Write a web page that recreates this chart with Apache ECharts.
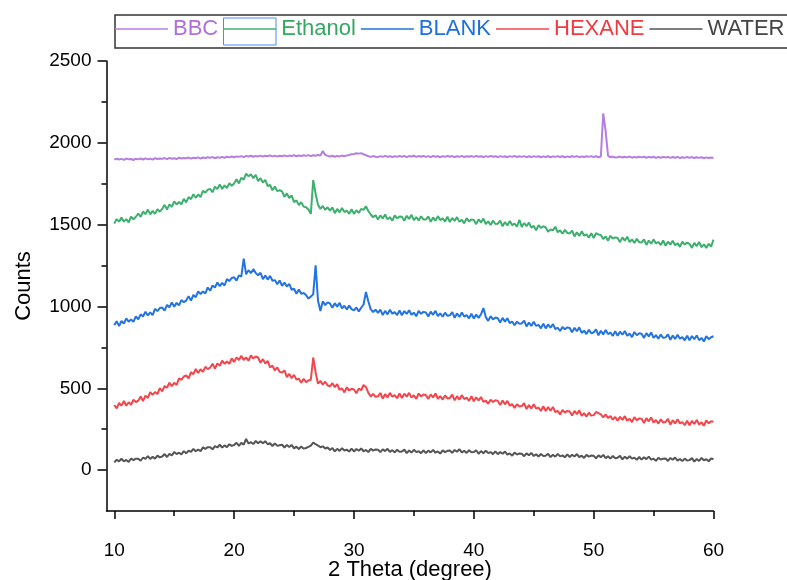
<!DOCTYPE html>
<html><head><meta charset="utf-8">
<script src="https://cdn.jsdelivr.net/npm/echarts@6/dist/echarts.min.js"></script>
<style>html,body{margin:0;padding:0;background:#fff}#c{width:787px;height:580px}</style>
</head><body><div id="c"></div>
<script>
// 2θ sampling grid: start and step (degrees)
const thetaStart = 10, thetaStep = 0.2;
const xTicks = [10, 20, 30, 40, 50, 60];
const xMinorTicks = [15, 25, 35, 45, 55];
const yTicks = [0, 500, 1000, 1500, 2000, 2500];
const yMinorTicks = [250, 750, 1250, 1750, 2250];
const seriesNames = ['BBC', 'Ethanol', 'BLANK', 'HEXANE', 'WATER'];

const bbc = [1897,1903,1898,1902,1896,1904,1899,1901,1895,1903,
 1899,1904,1898,1905,1900,1903,1897,1906,1901,1904,
 1902,1907,1900,1908,1903,1906,1901,1909,1904,1907,
 1905,1910,1903,1909,1906,1911,1904,1910,1907,1912,
 1908,1913,1906,1912,1909,1914,1908,1915,1911,1916,
 1912,1917,1914,1919,1913,1920,1916,1921,1915,1920,
 1917,1922,1916,1921,1918,1923,1917,1922,1916,1921,
 1918,1923,1917,1922,1919,1924,1918,1922,1919,1924,
 1920,1925,1919,1924,1921,1926,1922,1950,1926,1920,
 1916,1921,1915,1920,1917,1922,1918,1923,1926,1930,
 1932,1936,1934,1937,1930,1924,1918,1914,1919,1915,
 1913,1919,1914,1920,1915,1918,1913,1919,1914,1920,
 1915,1920,1913,1919,1916,1921,1914,1919,1915,1920,
 1914,1919,1913,1920,1915,1918,1912,1919,1914,1920,
 1915,1919,1913,1918,1914,1920,1913,1918,1915,1919,
 1914,1920,1915,1918,1913,1919,1914,1920,1915,1918,
 1913,1919,1914,1918,1912,1919,1914,1920,1913,1918,
 1914,1919,1912,1918,1913,1919,1914,1918,1912,1917,
 1913,1918,1912,1917,1914,1919,1913,1918,1912,1917,
 1913,1918,1914,1919,1912,1917,1913,1918,1914,1919,
 1913,1918,1912,1916,2180,2072,1922,1911,1916,1910,
 1912,1916,1910,1915,1911,1916,1909,1914,1910,1915,
 1911,1915,1909,1914,1910,1915,1908,1913,1909,1914,
 1910,1914,1908,1913,1909,1914,1907,1912,1908,1913,
 1908,1913,1907,1912,1908,1912,1906,1911,1907,1910,
 1908];

const ethanol = [1506,1534,1518,1544,1518,1534,1514,1549,1533,1548,
 1568,1547,1580,1564,1592,1563,1584,1566,1595,1579,
 1596,1621,1592,1624,1609,1642,1623,1638,1624,1658,
 1636,1668,1656,1686,1664,1684,1668,1707,1695,1714,
 1718,1698,1732,1717,1746,1718,1740,1723,1753,1738,
 1751,1778,1752,1787,1775,1812,1795,1808,1784,1805,
 1766,1784,1758,1773,1736,1742,1710,1733,1705,1710,
 1703,1670,1691,1663,1679,1638,1648,1619,1637,1610,
 1606,1592,1566,1772,1688,1622,1596,1614,1590,1606,
 1586,1605,1570,1596,1575,1602,1577,1586,1566,1594,
 1566,1588,1572,1596,1590,1612,1582,1562,1545,1558,
 1531,1556,1538,1562,1532,1546,1524,1557,1538,1550,
 1548,1524,1554,1535,1560,1528,1546,1525,1551,1532,
 1531,1551,1517,1544,1524,1552,1528,1538,1519,1548,
 1516,1541,1523,1546,1517,1530,1508,1540,1520,1532,
 1528,1503,1533,1513,1537,1504,1520,1498,1524,1504,
 1506,1525,1490,1516,1495,1522,1497,1506,1487,1530,
 1486,1510,1490,1512,1482,1492,1466,1497,1480,1490,
 1483,1457,1471,1465,1487,1453,1465,1444,1468,1449,
 1446,1464,1428,1453,1431,1459,1433,1441,1420,1447,
 1418,1448,1440,1436,1412,1428,1402,1432,1414,1422,
 1418,1393,1422,1402,1426,1393,1410,1388,1413,1393,
 1391,1410,1376,1403,1383,1410,1385,1394,1375,1403,
 1371,1396,1378,1401,1374,1387,1364,1396,1378,1390,
 1383,1358,1388,1369,1394,1362,1380,1358,1383,1366,
 1408];

const blank = [886,910,880,911,895,927,907,921,906,939,
 921,952,939,968,945,964,947,985,972,990,
 993,974,1009,995,1025,998,1022,1007,1039,1026,
 1036,1063,1036,1070,1057,1092,1075,1092,1080,1116,
 1096,1128,1116,1146,1124,1144,1128,1167,1155,1174,
 1178,1158,1190,1182,1292,1196,1222,1203,1228,1205,
 1191,1206,1167,1189,1164,1187,1157,1161,1136,1159,
 1126,1146,1122,1138,1102,1108,1078,1103,1077,1082,
 1070,1048,1060,1075,1252,1035,972,1032,1008,1025,
 1018,992,1020,999,1022,988,1004,981,1005,984,
 976,994,970,992,1012,1088,1030,982,966,980,
 961,981,947,973,952,980,956,965,947,975,
 946,972,954,977,949,962,940,973,955,967,
 963,939,968,949,973,941,958,937,962,943,
 946,965,931,957,936,963,938,947,927,955,
 926,950,930,952,990,935,912,941,921,932,
 928,902,930,907,928,898,908,885,907,894,
 896,914,878,902,881,907,881,887,866,895,
 866,890,870,892,862,870,850,875,861,872,
 868,842,870,849,872,838,852,831,857,836,
 841,860,824,851,829,856,831,840,820,849,
 821,846,827,850,821,834,813,844,824,836,
 833,808,837,817,841,808,825,803,828,808,
 811,830,796,822,801,827,803,812,793,821,
 794,819,800,823,794,808,786,818,800,812,
 818];

const hexane = [398,377,410,394,422,393,415,399,430,416,
 424,450,422,455,441,477,460,477,465,501,
 481,514,503,534,513,534,520,561,551,572,
 578,561,598,586,618,593,616,600,631,617,
 626,650,620,652,637,669,649,664,650,683,
 661,689,673,699,673,689,668,701,682,694,
 688,656,678,651,668,628,638,609,627,600,
 596,609,568,588,561,582,553,558,534,558,
 538,548,552,688,598,528,545,522,540,518,
 511,531,507,525,491,499,475,506,486,497,
 493,470,498,488,520,508,472,450,466,448,
 451,471,437,464,444,472,448,458,439,468,
 441,467,449,472,443,457,435,468,450,462,
 458,434,463,444,468,436,452,431,456,438,
 441,461,426,452,431,458,434,443,423,451,
 421,445,425,447,417,425,405,430,416,427,
 423,397,425,402,423,393,403,380,402,389,
 391,409,373,397,376,402,376,382,361,390,
 361,385,363,386,355,362,340,368,351,362,
 358,333,362,341,365,332,348,327,351,333,
 336,355,348,340,322,340,318,330,308,325,
 301,326,307,330,301,314,293,324,304,316,
 313,288,317,298,322,290,306,284,310,290,
 294,313,278,305,285,311,285,294,274,302,
 274,300,282,306,278,292,271,304,286,299,
 296];

const water = [47,63,53,69,53,62,50,71,61,70,
 70,57,77,68,85,68,81,70,88,78,
 83,98,80,99,90,110,98,106,96,116,
 102,119,111,129,115,126,116,139,130,140,
 140,127,147,138,155,138,151,140,158,148,
 153,167,148,166,156,190,163,170,159,178,
 164,177,164,177,158,164,147,163,148,152,
 155,138,154,141,154,133,143,129,144,131,
 135,142,150,168,158,150,140,145,132,138,
 123,135,114,130,117,134,120,125,113,131,
 114,129,118,132,115,123,110,130,119,126,
 125,110,127,116,130,111,122,108,124,112,
 113,125,104,120,107,124,110,115,103,121,
 104,119,108,123,106,114,101,121,110,118,
 120,105,123,112,127,108,118,105,121,109,
 110,121,100,116,103,119,104,110,97,114,
 97,111,100,113,95,102,88,107,95,102,
 100,85,102,91,105,86,97,83,98,86,
 88,100,79,94,82,99,84,90,78,96,
 80,94,83,98,80,88,74,93,82,89,
 87,72,90,79,93,73,84,70,86,73,
 76,87,65,82,70,85,70,75,63,80,
 64,78,67,82,64,70,57,75,65,70,
 71,56,74,63,77,58,68,55,70,58,
 61,73,52,68,56,74,60,66,54,72,
 66];

const FONT = '"Liberation Sans", Arial, sans-serif';
const lineColors = ['#b57ee0', '#3daf6e', '#2373e0', '#f2454c', '#555555'];
const textColors = ['#b06fdc', '#34a862', '#1f6fe0', '#ef3a42', '#444444'];
const seriesValues = [bbc, ethanol, blank, hexane, water];

function toPairs(vals) {
  return vals.map((v, i) => [+(thetaStart + i * thetaStep).toFixed(1), v]);
}

const chart = echarts.init(document.getElementById('c'), null, {renderer: 'canvas'});
const axisLineStyle = {color: '#000', width: 1.5};
const plain = v => String(v);

chart.setOption({
  animation: false,
  backgroundColor: '#fff',
  grid: {left: 106.5, right: 73.5, top: 61, bottom: 69, containLabel: false, outerBoundsMode: 'none'},
  legend: {
    left: 115, top: 18, padding: 0, width: 900,
    icon: 'rect', itemWidth: 53, itemHeight: 1.5, itemGap: 5,
    textStyle: {fontSize: 22, fontFamily: FONT},
    data: seriesNames.map((n, i) => ({name: n, textStyle: {color: textColors[i]}}))
  },
  xAxis: [{
    type: 'value', min: 9.35, max: 60, position: 'bottom',
    axisLine: {show: true, onZero: false, lineStyle: axisLineStyle},
    axisTick: {show: true, customValues: xTicks, length: 8, lineStyle: axisLineStyle},
    axisLabel: {customValues: xTicks, fontSize: 19, color: '#000', margin: 30, fontFamily: FONT, formatter: plain},
    splitLine: {show: false},
    name: '2 Theta (degree)', nameLocation: 'middle', nameGap: 48, nameMoveOverlap: false,
    nameTextStyle: {fontSize: 22, color: '#000', fontFamily: FONT}
  }, {
    type: 'value', min: 9.35, max: 60, position: 'bottom',
    axisLine: {show: false, onZero: false},
    axisTick: {show: true, customValues: xMinorTicks, length: 5, lineStyle: axisLineStyle},
    axisLabel: {show: false},
    splitLine: {show: false}
  }],
  yAxis: [{
    type: 'value', min: -250, max: 2500, position: 'left',
    axisLine: {show: true, onZero: false, lineStyle: axisLineStyle},
    axisTick: {show: true, customValues: yTicks, length: 9, lineStyle: axisLineStyle},
    axisLabel: {customValues: yTicks, fontSize: 19, color: '#000', margin: 15, fontFamily: FONT, formatter: plain},
    splitLine: {show: false},
    name: 'Counts', nameLocation: 'middle', nameGap: 72, nameMoveOverlap: false,
    nameTextStyle: {fontSize: 22, color: '#000', fontFamily: FONT}
  }, {
    type: 'value', min: -250, max: 2500, position: 'left',
    axisLine: {show: false, onZero: false},
    axisTick: {show: true, customValues: yMinorTicks, length: 5, lineStyle: axisLineStyle},
    axisLabel: {show: false},
    splitLine: {show: false}
  }],
  graphic: [
    {type: 'rect', left: 112.5, top: 12.5, shape: {width: 720, height: 33},
     style: {fill: 'none', stroke: '#333', lineWidth: 1.5}, silent: true},
    {type: 'rect', left: 221, top: 15.5, shape: {width: 52.5, height: 27},
     style: {fill: 'none', stroke: '#4a8cf0', lineWidth: 1}, silent: true}
  ],
  series: seriesNames.map((n, i) => ({
    name: n, type: 'line', xAxisIndex: 0, yAxisIndex: 0,
    data: toPairs(seriesValues[i]),
    showSymbol: false, symbol: 'none',
    color: lineColors[i],
    lineStyle: {width: 2, color: lineColors[i]},
    emphasis: {disabled: true}
  }))
});
</script>
</body></html>
